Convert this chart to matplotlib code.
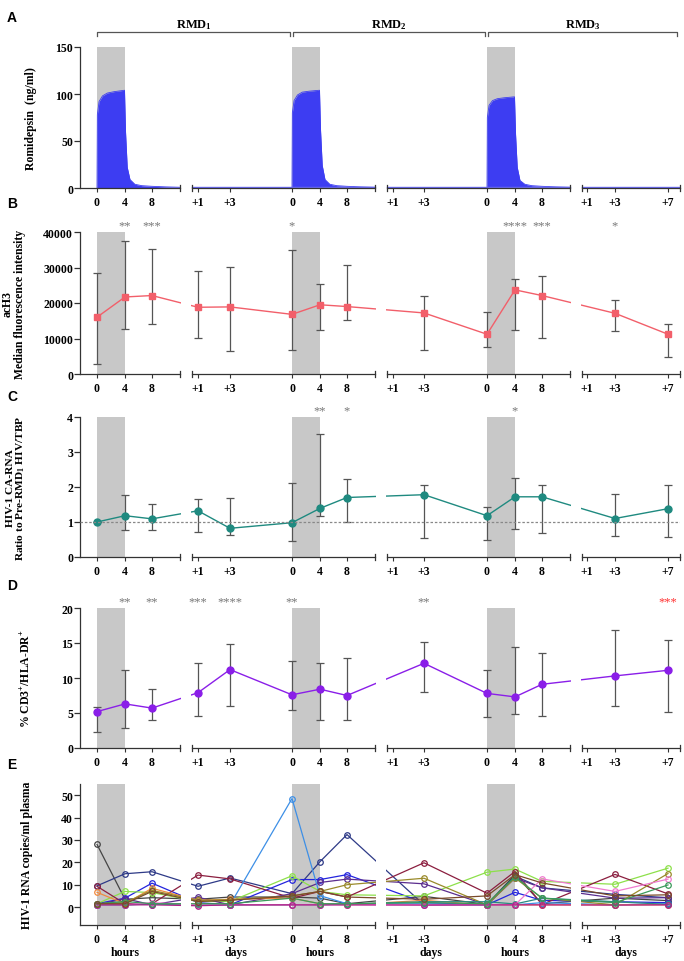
import numpy as np
import matplotlib.pyplot as plt

plt.rcParams['font.family'] = ['Liberation Serif', 'DejaVu Serif']
plt.rcParams['font.weight'] = 'bold'
plt.rcParams['axes.labelweight'] = 'bold'
plt.rcParams['mathtext.fontset'] = 'custom'
plt.rcParams['mathtext.rm'] = 'Liberation Serif:bold'
plt.rcParams['mathtext.it'] = 'Liberation Serif:bold'
plt.rcParams['mathtext.bf'] = 'Liberation Serif:bold'
plt.rcParams['mathtext.default'] = 'rm'

nan = np.nan

# time points (hours after each dose, then days)
time_labels = ["0", "4", "8", "+1", "+3",
               "0", "4", "8", "+1", "+3",
               "0", "4", "8", "+1", "+3", "+7"]
# layout: where each time point sits on the broken axis
tick_x = [97, 125, 152, 198, 230, 292, 320, 347, 393, 424, 487, 515, 542, 587, 615, 668]
segments = [(80, 180), (192, 375), (387, 570), (582, 680)]
dose_idx = [0, 5, 10]      # 0 h of each RMD
infusion_idx = [1, 6, 11]  # 4 h of each RMD

# A: romidepsin plasma level (ng/ml)
pk_hours = [0, 0.05, 0.3, 0.8, 1.5, 2.5, 4.0, 4.15, 4.4, 4.8, 5.5, 6.5, 8, 10, 12]
pk_rmd1 = [0, 78, 92, 98, 101, 102.5, 104, 60, 22, 9, 4, 2.5, 1.8, 1.2, 0.8]
pk_rmd2 = [0, 80, 93, 99, 102, 103, 104, 62, 24, 9, 4, 2.5, 1.8, 1.2, 0.8]
pk_rmd3 = [0, 75, 88, 93, 95, 96, 97, 58, 22, 8, 4, 2.5, 1.8, 1.2, 0.8]

# B: acH3 median fluorescence intensity
ach3 = [16000, 21700, 22100, 18800, 18900, 16800, 19500, 19000, nan, 17200,
        11200, 23700, 22100, nan, 17100, 11200]
ach3_lo = [2700, 12600, 14100, 10100, 6400, 6700, 12500, 15300, nan, 6700,
           7500, 12300, 10100, nan, 12200, 4700]
ach3_hi = [28500, 37400, 35300, 29000, 30200, 34800, 25400, 30600, nan, 22000,
           17400, 26800, 27700, nan, 20900, 14000]
ach3_stars = [(1, "**"), (2, "***"), (5, "*"), (11, "****"), (12, "***"), (14, "*")]

# C: HIV-1 CA-RNA ratio
carna = [1.0, 1.18, 1.09, 1.32, 0.82, 0.98, 1.39, 1.70, nan, 1.78,
         1.18, 1.72, 1.72, nan, 1.10, 1.38]
carna_lo = [1.0, 0.77, 0.77, 0.72, 0.64, 0.45, 1.18, 1.0, nan, 0.54,
            0.48, 0.79, 0.68, nan, 0.59, 0.57]
carna_hi = [1.0, 1.78, 1.52, 1.67, 1.68, 2.12, 3.52, 2.23, nan, 2.07,
            1.44, 2.26, 2.06, nan, 1.80, 2.06]
carna_stars = [(6, "**"), (7, "*"), (11, "*")]

# D: % CD3+/HLA-DR+
hladr = [5.2, 6.3, 5.7, 7.9, 11.2, 7.6, 8.4, 7.5, nan, 12.1,
         7.8, 7.3, 9.1, nan, 10.3, 11.1]
hladr_lo = [2.3, 2.9, 4.0, 4.6, 6.0, 5.4, 4.0, 4.0, nan, 8.0,
            4.4, 4.8, 4.6, nan, 6.0, 5.2]
hladr_hi = [5.8, 11.2, 8.5, 12.2, 14.9, 12.4, 12.2, 12.9, nan, 15.1,
            11.2, 14.4, 13.6, nan, 16.8, 15.5]
hladr_stars = [(1, "**"), (2, "**"), (3, "***"), (4, "****"), (5, "**"), (9, "**"), (15, "***")]

# E: plasma HIV-1 RNA per patient (copies/ml)
patient_colors = ['#454545', '#2e3a87', '#2424dd', '#8de04a', '#8b1e3f', '#5b2d8e',
                  '#3d8fe6', '#f08a40', '#9a8a2a', '#2a8a80', '#f07ad0', '#b0208a',
                  '#3a9a5a', '#7a4a2a']
patient_rna = [
    [28, 3.5, 4.2, 3.5, 4.5, 4.5, 4.0, 1.5, nan, 4.8, 1.2, 14.5, 1.5, nan, 4.0, 2.9],
    [9.5, 14.9, 15.8, 9.3, 13.0, 6.0, 20.3, 32.4, nan, 1.0, 1.0, 13.8, 8.6, nan, 5.7, 4.2],
    [1.5, 4.0, 10.7, 2.0, 1.0, 12.3, 12.3, 14.5, nan, 2.0, 1.0, 6.6, 3.0, nan, 2.4, 2.0],
    [1.5, 7.0, 6.5, 2.5, 2.5, 14.0, 7.0, 5.5, nan, 5.0, 15.6, 17.0, 11.5, nan, 10.2, 17.4],
    [9.3, 1.5, 1.5, 14.3, 12.6, 4.0, 7.0, 4.5, nan, 19.8, 6.2, 15.9, 1.2, nan, 14.6, 5.9],
    [1.0, 3.8, 1.0, 4.4, 1.0, 6.0, 11.0, 12.5, nan, 10.4, 1.0, 13.0, 8.6, nan, 4.0, 4.2],
    [1.0, 1.0, 1.5, 1.0, 1.0, 48.5, 5.1, 1.5, nan, 1.5, 1.0, 1.0, 2.0, nan, 1.0, 1.5],
    [6.6, 1.5, 8.4, 3.0, 3.5, 4.0, 1.5, 1.0, nan, 3.0, 1.0, 1.0, 1.0, nan, 1.0, 1.0],
    [1.5, 2.0, 7.5, 3.0, 3.3, 5.0, 7.0, 10.0, nan, 12.9, 1.0, 13.0, 4.0, nan, 1.0, 15.0],
    [1.0, 1.0, 1.4, 1.0, 0.9, 1.0, 1.0, 1.4, nan, 2.4, 2.4, 1.4, 4.0, nan, 2.4, 1.2],
    [1.0, 1.0, 2.0, 1.0, 1.0, 1.0, 1.0, 1.0, nan, 1.0, 1.0, 1.0, 12.6, nan, 7.0, 12.5],
    [1.0, 1.0, 1.0, 0.6, 1.0, 1.0, 1.0, 1.0, nan, 0.9, 1.0, 1.0, 1.0, nan, 0.9, 1.0],
    [1.5, 2.5, 1.5, 1.5, 1.5, 4.0, 1.5, 1.5, nan, 2.0, 1.5, 13.5, 4.0, nan, 2.0, 9.9],
    [1.5, 1.5, 7.0, 2.5, 3.0, 5.0, 7.0, 4.5, nan, 3.5, 5.0, 14.5, 10.8, nan, 5.0, 5.5],
]

W, H = 684, 962
fig = plt.figure(figsize=(W / 100, H / 100), dpi=100)


def make_axes(top_px, bottom_px):
    return fig.add_axes([80 / W, 1 - bottom_px / H, 600 / W, (bottom_px - top_px) / H])


def style_axis(ax, ylim, yticks):
    ax.set_xlim(80, 680)
    ax.set_ylim(*ylim)
    ax.set_yticks(yticks)
    for s in ['top', 'right', 'bottom']:
        ax.spines[s].set_visible(False)
    ax.spines['left'].set_color('#333333')
    ax.spines['left'].set_linewidth(0.9)
    ax.set_xticks(tick_x)
    ax.set_xticklabels(time_labels, fontsize=8.5, fontweight='bold')
    ax.tick_params(axis='x', length=3, width=0.8, color='#333333', pad=3)
    ax.tick_params(axis='y', length=4, width=0.9, color='#333333', labelsize=8.5, pad=1)
    trans = ax.get_xaxis_transform()
    # broken bottom axis
    for a, b in segments:
        ax.plot([a, b], [0, 0], transform=trans, color='#333333', lw=0.9,
                clip_on=False, zorder=8)
        for e in (a, b):
            if e > 80:
                ax.plot([e, e], [-0.02, 0.02], transform=trans, color='#333333',
                        lw=0.9, clip_on=False, zorder=8)
    # white gaps between axis segments
    for (a0, b0), (a1, b1) in zip(segments[:-1], segments[1:]):
        ax.axvspan(b0 + 0.6, a1 - 0.6, color='white', lw=0, zorder=6)
    # infusion periods
    for i0, i1 in zip(dose_idx, infusion_idx):
        ax.axvspan(tick_x[i0], tick_x[i1], color='#c8c8c8', lw=0, zorder=0)


def plot_median(ax, vals, lo, hi, color, marker, ms):
    v = np.array(vals)
    ok = ~np.isnan(v)
    x = np.array(tick_x)[ok]
    y = v[ok]
    yerr = [y - np.array(lo)[ok], np.array(hi)[ok] - y]
    ax.errorbar(x, y, yerr=yerr, fmt='none', ecolor='#555555', elinewidth=0.9,
                capsize=3, capthick=0.9, zorder=3)
    ax.plot(x, y, color=color, lw=1.0, marker=marker, ms=ms, zorder=4)


def add_stars(ax, stars, red_idx=None):
    trans = ax.get_xaxis_transform()
    for i, s in stars:
        c = '#ff3030' if i == red_idx else '#777777'
        ax.text(tick_x[i], 1.005, s, transform=trans, ha='center', va='bottom',
                fontsize=9, color=c, fontweight='normal', zorder=9)


def panel_letter(y_px, letter):
    fig.text(12 / W, 1 - y_px / H, letter, family='Liberation Sans', fontsize=10,
             fontweight='bold', ha='center', va='center')


# ---- A
axA = make_axes(48, 189)
style_axis(axA, (0, 150), [0, 50, 100, 150])
for i0, pk in zip(dose_idx, [pk_rmd1, pk_rmd2, pk_rmd3]):
    x0 = tick_x[i0]
    scale = (tick_x[i0 + 2] - x0) / 8
    px = [x0 + h * scale for h in pk_hours]
    axA.fill_between(px, 0, pk, color='#3d3df2', lw=0, zorder=2)
    axA.plot(px, pk, color='#3d3df2', lw=0.6, zorder=2)
for a, b in segments[1:]:
    axA.plot([a, b], [0.6, 0.6], color='#6b6bf5', lw=1.0, zorder=7)
axA.set_ylabel('Romidepsin  (ng/ml)', fontsize=8.5)
axA.yaxis.set_label_coords(-0.072, 0.5)
transA = axA.get_xaxis_transform()
for k, (i0, end) in enumerate(zip(dose_idx, [tick_x[5] - 2, tick_x[10] - 2, 677])):
    start = tick_x[i0] + (1 if k > 0 else 0)
    axA.plot([start, start, end, end], [1.075, 1.106, 1.106, 1.075], transform=transA,
             color='#555555', lw=0.9, clip_on=False)
    axA.text((start + end) / 2, 1.165, f'RMD$_{k + 1}$', transform=transA,
             ha='center', va='center', fontsize=9)
panel_letter(18, 'A')

# ---- B
axB = make_axes(233, 375)
style_axis(axB, (0, 40000), [0, 10000, 20000, 30000, 40000])
plot_median(axB, ach3, ach3_lo, ach3_hi, '#f25f6a', 's', 5)
add_stars(axB, ach3_stars)
axB.set_ylabel('acH3\nMedian fluorescence intensity', fontsize=8.5, linespacing=1.05)
axB.yaxis.set_label_coords(-0.09, 0.5)
panel_letter(204, 'B')

# ---- C
axC = make_axes(418, 558)
style_axis(axC, (0, 4), [0, 1, 2, 3, 4])
axC.axhline(1, color='#888888', lw=0.9, ls=(0, (2, 1.5)), zorder=7)
plot_median(axC, carna, carna_lo, carna_hi, '#1f8a80', 'o', 5)
add_stars(axC, carna_stars)
axC.set_ylabel('HIV-1 CA-RNA\nRatio to Pre-RMD$_1$ HIV/TBP', fontsize=8.2, linespacing=1.0)
axC.yaxis.set_label_coords(-0.088, 0.5)
panel_letter(397, 'C')

# ---- D
axD = make_axes(609, 749)
style_axis(axD, (0, 20), [0, 5, 10, 15, 20])
plot_median(axD, hladr, hladr_lo, hladr_hi, '#8a1ee8', 'o', 5)
add_stars(axD, hladr_stars, red_idx=15)
axD.set_ylabel('% CD3$^{+}$/HLA-DR$^{+}$', fontsize=8.5)
axD.yaxis.set_label_coords(-0.078, 0.5)
panel_letter(586, 'D')

# ---- E
axE = make_axes(785, 926)
style_axis(axE, (-8, 55), [0, 10, 20, 30, 40, 50])
for col, vals in zip(patient_colors, patient_rna):
    v = np.array(vals)
    ok = ~np.isnan(v)
    axE.plot(np.array(tick_x)[ok], v[ok], color=col, lw=0.9, marker='o', ms=4,
             mfc='none', mew=0.9, zorder=3)
axE.set_ylabel('HIV-1 RNA copies/ml plasma', fontsize=8.5)
axE.yaxis.set_label_coords(-0.078, 0.5)
transE = axE.get_xaxis_transform()
for xl, lab in [(tick_x[1], 'hours'), (236, 'days'), (tick_x[6], 'hours'),
                (431, 'days'), (tick_x[11], 'hours'), (626, 'days')]:
    axE.text(xl, -0.19, lab, transform=transE, ha='center', va='center', fontsize=8.5)
panel_letter(765, 'E')

fig.savefig('out.png', dpi=100)
